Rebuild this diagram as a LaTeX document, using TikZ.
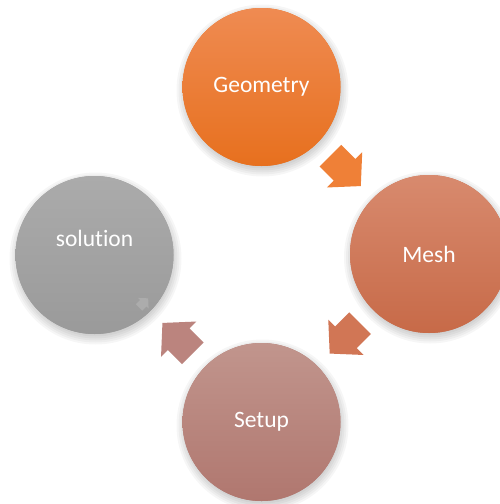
\documentclass[tikz,border=0pt]{standalone}
\usepackage{fontspec}
\setmainfont{Carlito}[Ligatures={NoCommon}]
\usetikzlibrary{calc,shadows.blur,backgrounds}

% stage colours (top / bottom of each gradient)
\definecolor{geoTop}{RGB}{239,139,82}
\definecolor{geoBot}{RGB}{231,112,30}
\definecolor{meshTop}{RGB}{216,138,110}
\definecolor{meshBot}{RGB}{199,106,72}
\definecolor{setTop}{RGB}{193,149,141}
\definecolor{setBot}{RGB}{176,119,111}
\definecolor{solTop}{RGB}{171,171,171}
\definecolor{solBot}{RGB}{154,154,154}
\definecolor{arrA}{RGB}{239,128,55}
\definecolor{arrB}{RGB}{209,118,85}
\definecolor{arrC}{RGB}{187,132,126}
\definecolor{arrD}{RGB}{172,172,172}

\tikzset{
  disc/.style={circle, minimum size=158pt, inner sep=0pt,
    text=white, font=\fontsize{23.5}{28}\selectfont},
  % solid base under the gradient, then the gradient itself
  discfill/.style 2 args={fill=#2, top color=#1, bottom color=#2},
  stagetext/.style={text=white, font=\fontsize{23.5}{28}\selectfont},
  blockarrow/.style={blur shadow={shadow xshift=1pt, shadow yshift=-3pt,
      shadow blur radius=2.5pt, shadow opacity=40}},
  tinyarrow/.style={blur shadow={shadow xshift=-1pt, shadow yshift=-2pt,
      shadow blur radius=1pt, shadow opacity=45}},
  % soft drop shadow under a stage disc: stacked faint rings
  discshadow/.pic={
    \foreach \r in {72,74,...,86}
      \fill[black, opacity=0.035] (1,3.5) circle (\r);
  },
  % block arrow outline pointing along +x, centred on the origin
  arrowshape/.pic={
    \path[pic actions] (-21,-15.3) -- (-1,-15.3) -- (-1,-25) -- (22,0)
      -- (-1,25) -- (-1,15.3) -- (-21,15.3) -- cycle;
  },
}

\begin{document}
\begin{tikzpicture}[x=1pt,y=-1pt]
  \useasboundingbox (0,0) rectangle (500,504);

  % stages
  \node[disc, discfill={geoTop}{geoBot}]   (geo)   at (261.5,87)  {Geometry};
  \node[disc, discfill={meshTop}{meshBot}] (mesh)  at (429,254)   {Mesh};
  \node[disc, discfill={setTop}{setBot}]   (setup) at (261.5,422) {Setup};
  \node[disc, discfill={solTop}{solBot}]   (sol)   at (94.5,255)  {};
  \node[stagetext] (soltext) at ($(sol)+(0,-17)$) {solution};

  % page colour and the shadows under the discs
  \begin{scope}[on background layer]
    \fill[white] (0,0) rectangle (500,504);
    \foreach \s in {geo,mesh,setup,sol}
      \pic at (\s) {discshadow};
  \end{scope}

  % block arrows between the stages
  \pic[fill=arrA, blockarrow] at ($(geo)!0.5!(mesh)$)   [rotate=-45]  {arrowshape};
  \pic[fill=arrB, blockarrow] at ($(mesh)!0.5!(setup)$) [rotate=-135] {arrowshape};
  \pic[fill=arrC, blockarrow] at ($(setup)!0.5!(sol)$)  [rotate=135]  {arrowshape};
  \pic[fill=arrD, tinyarrow, scale=0.3] at ($(sol)+(49,48)$) [rotate=45] {arrowshape};
\end{tikzpicture}
\end{document}
